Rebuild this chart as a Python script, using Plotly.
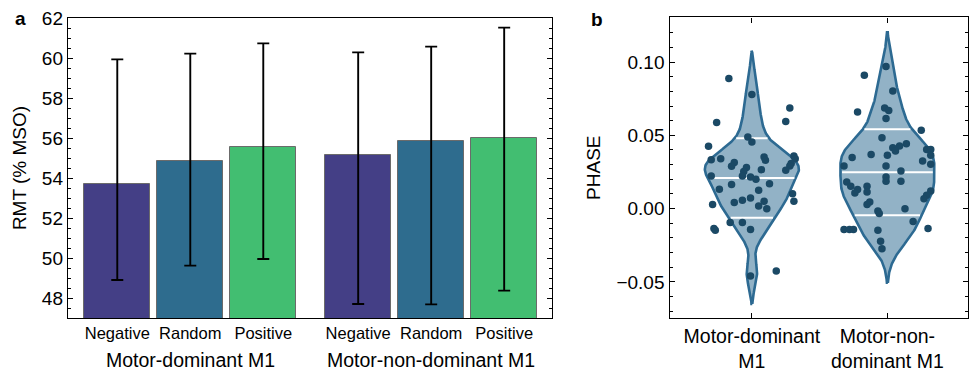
import numpy as np
import plotly.graph_objects as go

# ---------------- data ----------------
conditions = ["Negative", "Random", "Positive"]
groups = ["Motor-dominant M1", "Motor-non-dominant M1"]
rmt_mean = [[53.70, 54.83, 55.55], [55.15, 55.83, 55.98]]
rmt_upper = [[59.93, 60.22, 60.73], [60.28, 60.57, 61.52]]
rmt_lower = [[48.90, 49.62, 49.95], [47.70, 47.68, 48.37]]
bar_colors = ["#443f86", "#2e6c8e", "#42be71"]
rmt_ticks = [48, 50, 52, 54, 56, 58, 60, 62]

phase_labels = ["Motor-dominant<br>M1", "Motor-non-<br>dominant M1"]
phase_dominant = [0.0887, 0.0778, 0.0686, 0.0595, 0.0587, 0.0488, 0.0454, 0.0425, 0.0359, 0.0341,
                  0.0352, 0.0330, 0.0334, 0.0341, 0.0307, 0.0291, 0.0261, 0.0314, 0.0289, 0.0280,
                  0.0254, 0.0266, 0.0222, 0.0216, 0.0200, 0.0222, 0.0164, 0.0170, 0.0132, 0.0125,
                  0.0102, 0.0072, 0.0057, 0.0041, 0.0050, 0.0018, 0.0000, 0.0029, 0.0050, -0.0095,
                  -0.0095, -0.0143, -0.0136, -0.0148, -0.0460, -0.0425]
jitter_dominant = [-0.17, 0.00, 0.28, 0.25, -0.26, -0.03, 0.00, -0.32, 0.31, 0.32,
                   0.09, 0.10, -0.30, -0.23, 0.29, 0.28, 0.25, -0.13, -0.15, -0.04,
                   -0.06, 0.07, -0.07, -0.01, 0.03, -0.30, -0.15, 0.13, -0.24, 0.05,
                   0.30, -0.01, -0.07, -0.13, 0.09, 0.05, 0.11, -0.29, 0.31, -0.16,
                   -0.07, -0.01, -0.28, -0.27, -0.01, 0.18]
phase_nondominant = [0.0970, 0.0909, 0.0802, 0.0686, 0.0670, 0.0659, 0.0614, 0.0534, 0.0484, 0.0443,
                     0.0427, 0.0416, 0.0393, 0.0404, 0.0404, 0.0364, 0.0325, 0.0302, 0.0348, 0.0370,
                     0.0364, 0.0291, 0.0291, 0.0257, 0.0216, 0.0186, 0.0186, 0.0182, 0.0152, 0.0130,
                     0.0152, 0.0113, 0.0106, 0.0120, 0.0091, 0.0068, 0.0045, 0.0029, -0.0016, -0.0034,
                     0.0000, -0.0143, -0.0143, -0.0143, -0.0148, -0.0087, -0.0136, -0.0223, -0.0273]
jitter_nondominant = [-0.01, -0.17, 0.04, -0.02, 0.01, -0.22, -0.01, 0.25, -0.04, 0.14,
                      0.09, 0.04, 0.06, 0.29, 0.32, 0.32, 0.26, 0.32, -0.26, -0.12,
                      0.00, -0.32, -0.01, 0.10, -0.01, -0.01, 0.10, -0.30, -0.27, -0.22,
                      -0.15, -0.15, -0.24, 0.32, 0.29, 0.27, -0.13, -0.15, -0.07, -0.06,
                      0.13, -0.32, -0.28, -0.25, -0.07, 0.19, 0.30, -0.05, -0.04]
phase_ticks = [-0.05, 0.00, 0.05, 0.10]
phase_ticktext = ["\u22120.05", "0.00", "0.05", "0.10"]

# ---------------- styling ----------------
FONT = "Liberation Sans, Arial, sans-serif"
VIOLIN_FILL = "rgba(46,107,146,0.52)"
VIOLIN_LINE = "#2d6a92"
POINT_COLOR = "#1b4965"
GROUP_GAP = 0.3
HALF_WIDTH = 0.347

fig = go.Figure()

# ---------------- panel a: bars ----------------
n_cond = len(conditions)
positions = [[g * (n_cond + GROUP_GAP) + c for c in range(n_cond)] for g in range(len(groups))]
for c, cond in enumerate(conditions):
    xs = [positions[g][c] for g in range(len(groups))]
    ys = [rmt_mean[g][c] for g in range(len(groups))]
    up = [rmt_upper[g][c] - rmt_mean[g][c] for g in range(len(groups))]
    lo = [rmt_mean[g][c] - rmt_lower[g][c] for g in range(len(groups))]
    fig.add_trace(go.Bar(
        x=xs, y=ys, width=0.9,
        marker=dict(color=bar_colors[c], line=dict(color="#6b6b6b", width=1)),
        error_y=dict(type="data", symmetric=False, array=up, arrayminus=lo,
                     color="black", thickness=1.9, width=6),
        xaxis="x", yaxis="y", showlegend=False, name=cond,
    ))

# ---------------- panel b: violins ----------------
def kde_shape(vals, cut=2.1, n=400):
    v = np.asarray(vals)
    sd = v.std(ddof=1)
    iqr = np.subtract(*np.percentile(v, [75, 25]))
    bw = 0.9 * min(sd, iqr / 1.34) * len(v) ** (-0.2)
    grid = np.linspace(v.min() - cut * bw, v.max() + cut * bw, n)
    dens = np.exp(-0.5 * ((grid[:, None] - v[None, :]) / bw) ** 2).sum(axis=1)
    dens = dens / dens.max() * HALF_WIDTH
    return grid, dens

for i, (vals, jit) in enumerate([(phase_dominant, jitter_dominant),
                                 (phase_nondominant, jitter_nondominant)]):
    grid, w = kde_shape(vals)
    xs = np.concatenate([i + w, (i - w)[::-1], [i + w[0]]])
    ys = np.concatenate([grid, grid[::-1], [grid[0]]])
    fig.add_trace(go.Scatter(x=xs, y=ys, mode="lines", fill="toself",
                             fillcolor=VIOLIN_FILL,
                             line=dict(color=VIOLIN_LINE, width=2.6),
                             xaxis="x2", yaxis="y2", showlegend=False, hoverinfo="skip"))
    v = np.asarray(vals)
    m, s = v.mean(), v.std(ddof=1)
    lx, ly = [], []
    for q in (m - s, m, m + s):
        hw = np.interp(q, grid, w) - 0.012
        lx += [i - hw, i + hw, None]
        ly += [q, q, None]
    fig.add_trace(go.Scatter(x=lx, y=ly, mode="lines", line=dict(color="white", width=2),
                             xaxis="x2", yaxis="y2", showlegend=False, hoverinfo="skip"))
    fig.add_trace(go.Scatter(x=[i + j for j in jit], y=vals, mode="markers",
                             marker=dict(color=POINT_COLOR, size=7.5),
                             xaxis="x2", yaxis="y2", showlegend=False))

# ---------------- layout ----------------
ydom = [1 - 318 / 373, 1 - 18 / 373]
axis_common = dict(showline=True, linecolor="black", linewidth=1.4, showgrid=False,
                   zeroline=False, tickcolor="black", automargin=False)
flat_pos = [p for grp in positions for p in grp]
fig.update_layout(
    width=970, height=373, margin=dict(l=0, r=0, t=0, b=0, autoexpand=False),
    paper_bgcolor="white", plot_bgcolor="white",
    font=dict(family=FONT, color="black", size=19),
    bargap=0,
    xaxis=dict(domain=[68 / 970, 552 / 970], range=[-0.675, 5.955], mirror=True,
               tickmode="array", tickvals=flat_pos, ticktext=conditions * len(groups),
               ticks="", tickfont=dict(size=16.5), **axis_common),
    yaxis=dict(domain=ydom, range=[47, 62], mirror="ticks", ticks="inside", ticklen=5,
               tickwidth=1.3, tickmode="array", tickvals=rmt_ticks,
               minor=dict(ticks="inside", dtick=0.5, ticklen=3, tickcolor="black", tickwidth=1),
               title=dict(text="RMT (% MSO)", font=dict(size=19), standoff=10),
               tickfont=dict(size=19), **axis_common),
    xaxis2=dict(domain=[669.5 / 970, 968 / 970], range=[-0.608, 1.595], mirror="ticks",
                ticks="inside", ticklen=5, tickwidth=1.3, tickmode="array", tickvals=[0, 1],
                ticktext=phase_labels, tickfont=dict(size=19.5), anchor="y2", **axis_common),
    yaxis2=dict(domain=[1 - 318 / 373, 1 - 17.3 / 373], range=[-0.0746, 0.1305], mirror="ticks",
                ticks="inside", ticklen=5, tickwidth=1.3, tickmode="array", tickvals=phase_ticks,
                ticktext=phase_ticktext,
                minor=dict(ticks="inside", dtick=0.01, ticklen=3, tickcolor="black", tickwidth=1),
                title=dict(text="PHASE", font=dict(size=19), standoff=10),
                tickfont=dict(size=19), anchor="x2", **axis_common),
)

annotations = []
for g, name in enumerate(groups):
    annotations.append(dict(x=float(np.mean(positions[g])), y=1 - 360 / 373, xref="x", yref="paper",
                            text=name, showarrow=False, font=dict(size=19.5),
                            xanchor="center", yanchor="middle"))
annotations.append(dict(x=20 / 970, y=1 - 18 / 373, xref="paper", yref="paper", text="<b>a</b>",
                        showarrow=False, font=dict(size=19), xanchor="center", yanchor="middle"))
annotations.append(dict(x=597 / 970, y=1 - 19 / 373, xref="paper", yref="paper", text="<b>b</b>",
                        showarrow=False, font=dict(size=19), xanchor="center", yanchor="middle"))
fig.update_layout(annotations=annotations)

fig.write_html("out.html", config={"displayModeBar": False},
               post_script="document.body.style.margin='0px';")
